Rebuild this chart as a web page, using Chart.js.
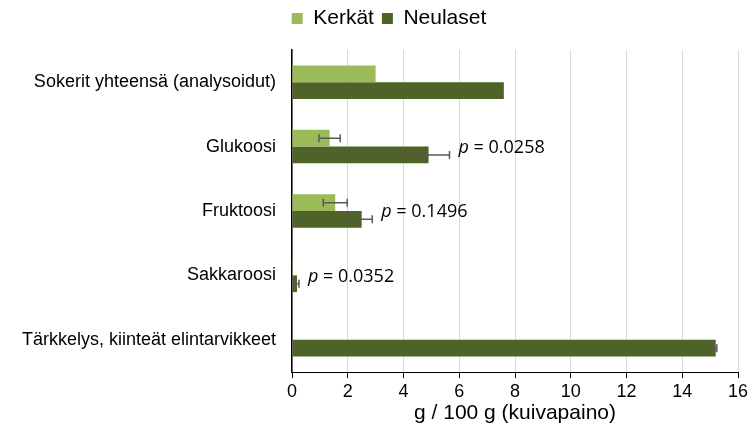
<!DOCTYPE html>
<html>
<head>
<meta charset="utf-8">
<script src="https://cdn.jsdelivr.net/npm/chart.js@4"></script>
<style>
  html, body { margin: 0; padding: 0; background: #fff; }
  #wrap { width: 754px; height: 437px; }
</style>
</head>
<body>
<div id="wrap"><canvas id="sugarChart" width="754" height="437"></canvas></div>
<script>
const categories = [
  'Sokerit yhteensä (analysoidut)',
  'Glukoosi',
  'Fruktoosi',
  'Sakkaroosi',
  'Tärkkelys, kiinteät elintarvikkeet'
];
const kerkat = [3.0, 1.35, 1.55, 0.03, null];
const kerkatErr = [null, 0.38, 0.43, null, null];
const neulaset = [7.6, 4.9, 2.5, 0.18, 15.2];
const neulasetErr = [null, 0.75, 0.38, 0.07, 0.04];
const pValues = ['', '0.0258', '0.1496', '0.0352', ''];
const xTicks = [0, 2, 4, 6, 8, 10, 12, 14, 16];

const errors = [kerkatErr, neulasetErr];

// error bars + p-value notes
const extrasPlugin = {
  id: 'extras',
  afterDatasetsDraw(chart) {
    const ctx = chart.ctx;
    const xs = chart.scales.x;
    const ys = chart.scales.y;
    ctx.save();
    ctx.strokeStyle = '#595959';
    ctx.lineWidth = 1.5;
    errors.forEach((errs, i) => {
      const meta = chart.getDatasetMeta(i);
      const vals = chart.data.datasets[i].data;
      errs.forEach((e, j) => {
        if (e == null || vals[j] == null) return;
        const bar = meta.data[j];
        const x1 = xs.getPixelForValue(vals[j] - e);
        const x2 = xs.getPixelForValue(vals[j] + e);
        const y = bar.y;
        ctx.beginPath();
        ctx.moveTo(x1, y); ctx.lineTo(x2, y);
        ctx.moveTo(x1, y - 4); ctx.lineTo(x1, y + 4);
        ctx.moveTo(x2, y - 4); ctx.lineTo(x2, y + 4);
        ctx.stroke();
      });
    });

    ctx.fillStyle = '#000';
    ctx.textBaseline = 'middle';
    pValues.forEach((p, j) => {
      if (!p) return;
      let maxX = 0;
      chart.data.datasets.forEach((ds, i) => {
        const v = ds.data[j];
        if (v == null) return;
        const e = errors[i][j] || 0;
        maxX = Math.max(maxX, xs.getPixelForValue(v + e));
      });
      const x = maxX + 9;
      const y = ys.getPixelForValue(j) + 1;
      ctx.font = 'italic 18px "Open Sans"';
      ctx.fillText('p', x, y);
      const w = ctx.measureText('p').width;
      ctx.font = '18px "Open Sans"';
      ctx.fillText(' = ' + p, x + w, y);
    });
    ctx.restore();
  }
};

// nudge legend to the right and leave more room below it
const legendTweak = {
  id: 'legendTweak',
  beforeInit(chart) {
    const fit = chart.legend.fit;
    chart.legend.fit = function () {
      fit.call(this);
      this.height += 11;
    };
  },
  afterLayout(chart) {
    chart.legend.left += 20;
    chart.legend.right += 20;
  }
};

const ctx = document.getElementById('sugarChart').getContext('2d');
new Chart(ctx, {
  type: 'bar',
  data: {
    labels: categories,
    datasets: [
      {
        label: 'Kerkät',
        data: kerkat,
        backgroundColor: '#9bbb59',
        categoryPercentage: 0.52,
        barPercentage: 1.0
      },
      {
        label: 'Neulaset',
        data: neulaset,
        backgroundColor: '#4f6228',
        categoryPercentage: 0.52,
        barPercentage: 1.0
      }
    ]
  },
  options: {
    indexAxis: 'y',
    responsive: false,
    animation: false,
    layout: {
      padding: { left: 0, right: 16, top: 0, bottom: 0 }
    },
    plugins: {
      legend: {
        position: 'top',
        labels: {
          color: '#000',
          boxWidth: 11,
          boxHeight: 11,
          padding: 8,
          font: { family: 'Liberation Sans', size: 21 }
        }
      },
      tooltip: { enabled: false }
    },
    scales: {
      x: {
        min: 0,
        max: 16,
        afterBuildTicks(scale) {
          scale.ticks = xTicks.map(v => ({ value: v }));
        },
        afterFit(scale) {
          scale.height = 65;
        },
        grid: {
          color: '#d9d9d9',
          lineWidth: 1,
          tickColor: '#000',
          tickLength: 6
        },
        border: { color: '#000', width: 1 },
        ticks: {
          color: '#000',
          padding: 3,
          font: { family: 'Liberation Sans', size: 18 }
        },
        title: {
          display: true,
          text: 'g / 100 g (kuivapaino)',
          color: '#000',
          padding: { top: 0, bottom: 11 },
          font: { family: 'Liberation Sans', size: 21 }
        }
      },
      y: {
        afterFit(scale) {
          scale.width = 292;
        },
        grid: { display: false, drawTicks: false },
        border: { color: '#000', width: 1.5 },
        ticks: {
          color: '#000',
          padding: 16,
          font: { family: 'Liberation Sans', size: 18 }
        }
      }
    }
  },
  plugins: [extrasPlugin, legendTweak]
});
</script>
</body>
</html>
